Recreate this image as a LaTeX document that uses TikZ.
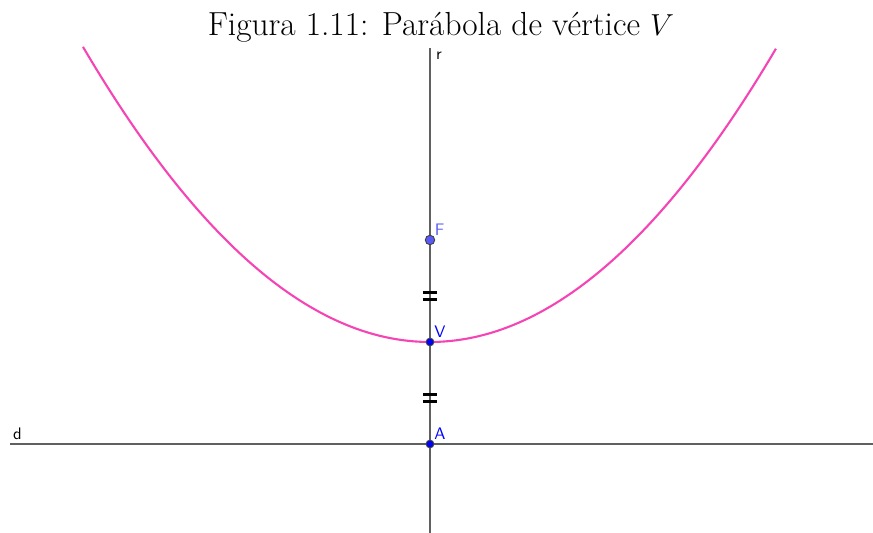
\documentclass[tikz,border=0pt]{standalone}
\usetikzlibrary{positioning, calc}
\definecolor{curva}{HTML}{F545B5}
\definecolor{eixo}{HTML}{606060}
\definecolor{pazul}{HTML}{0000FF}
\definecolor{pfoco}{HTML}{5A5AF5}
\begin{document}
\begin{tikzpicture}[x=0.02cm,y=0.02cm,
        reta/.style={draw=eixo,line width=1.3pt},
        ponto/.style={draw=black!75,circle,fill=pazul,inner sep=0pt,minimum size=4.4pt,line width=0.5pt},
        rotulo/.style={font=\sffamily\fontsize{9.5}{11}\selectfont,inner sep=0.5pt},
        traco/.style={draw=black,line width=1.4pt}]
      \useasboundingbox (-430,-89) rectangle (443,444);
      % retas r e d
      \coordinate (rbaixo) at (0,-89);
      \coordinate (rcima) at (0,396);
      \coordinate (desq) at (-420,0);
      \coordinate (ddir) at (443,0);
      \draw[reta] (rbaixo) -- (rcima);
      \draw[reta] (desq) -- (ddir);
      % parabola
      \draw[curva,line width=1.2pt,samples=120,domain=-3.47:3.46]
        plot ({100*\x},{102+24.51*\x*\x});
      % marcas de igualdade
      \foreach \h in {148,46} {
        \draw[traco] (-7,\h+3.5) -- (7,\h+3.5);
        \draw[traco] (-7,\h-3.5) -- (7,\h-3.5);
      }
      % pontos
      \node[ponto] (A) at (0,0) {};
      \node[ponto] (V) at (0,102) {};
      \node[ponto,fill=pfoco,minimum size=5.4pt] (F) at (0,204) {};
      \node[rotulo,text=pazul,above right=0pt and 0pt of A] (lA) {A};
      \node[rotulo,text=pazul,above right=0pt and 0pt of V] (lV) {V};
      \node[rotulo,text=pfoco,above right=0pt and 0pt of F] (lF) {F};
      \node[rotulo,anchor=north west] (lr) at (5,393) {r};
      \node[rotulo,anchor=south west] (ld) at (-418,3) {d};
      % titulo
      \node[font=\fontsize{19}{23}\selectfont] (titulo) at (11,417) {Figura 1.11: Parábola de vértice $V$};
    \end{tikzpicture}
\end{document}
